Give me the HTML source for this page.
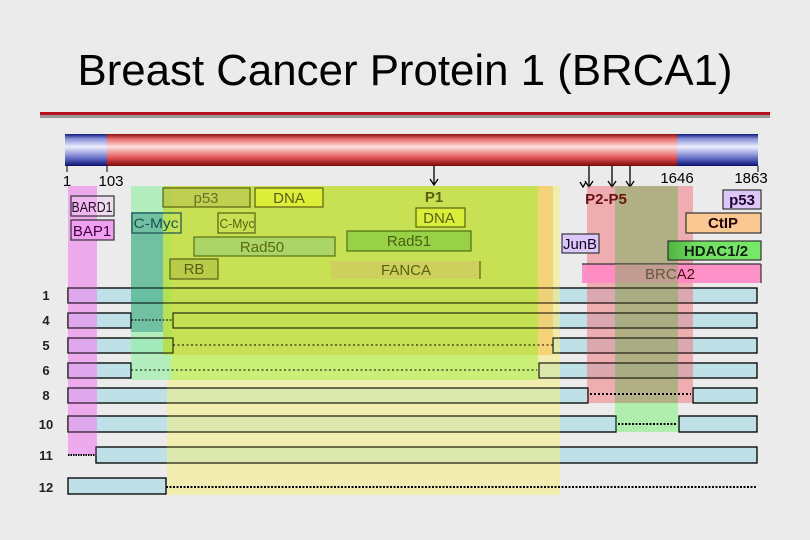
<!DOCTYPE html>
<html><head><meta charset="utf-8"><style>
html,body{margin:0;padding:0;background:#ebebeb;}
svg{display:block;}
text{font-family:"Liberation Sans",sans-serif;}
</style></head><body>
<svg width="810" height="540" viewBox="0 0 810 540" xmlns="http://www.w3.org/2000/svg">
<defs>
<linearGradient id="red" x1="0" y1="0" x2="0" y2="1">
<stop offset="0" stop-color="#8a1010"/><stop offset="0.15" stop-color="#e86a6a"/><stop offset="0.4" stop-color="#ffe0e0"/><stop offset="0.75" stop-color="#e05050"/><stop offset="1" stop-color="#7a0808"/></linearGradient>
<linearGradient id="blue" x1="0" y1="0" x2="0" y2="1">
<stop offset="0" stop-color="#101880"/><stop offset="0.15" stop-color="#8890d8"/><stop offset="0.4" stop-color="#eeeeff"/><stop offset="0.75" stop-color="#6870c8"/><stop offset="1" stop-color="#0a1070"/></linearGradient>
<linearGradient id="hdac" x1="0" y1="0" x2="1" y2="0">
<stop offset="0" stop-color="#50b040"/><stop offset="0.3" stop-color="#70e060"/><stop offset="1" stop-color="#78e868"/></linearGradient>
</defs>
<rect width="810" height="540" fill="#ebebeb"/>
<text x="405" y="85" font-size="44" text-anchor="middle" textLength="655" lengthAdjust="spacingAndGlyphs" fill="#000">Breast Cancer Protein 1 (BRCA1)</text>
<rect x="40" y="112" width="730" height="3" fill="#b8121e"/>
<rect x="40" y="115" width="730" height="3" fill="#999"/>

<rect x="65" y="134" width="42" height="32" fill="url(#blue)"/>
<rect x="107" y="134" width="570" height="32" fill="url(#red)"/>
<rect x="677" y="134" width="81" height="32" fill="url(#blue)"/>
<line x1="67" y1="166" x2="67" y2="172" stroke="#000"/>
<line x1="107" y1="166" x2="107" y2="172" stroke="#000"/>
<line x1="758" y1="166" x2="758" y2="172" stroke="#000"/>
<g font-size="15" fill="#000">
<text x="67" y="186" text-anchor="middle">1</text>
<text x="111" y="186" text-anchor="middle">103</text>
<text x="677" y="183" text-anchor="middle">1646</text>
<text x="751" y="183" text-anchor="middle">1863</text>
</g>
<g stroke="#000" stroke-width="1.3" fill="none">
<line x1="434" y1="166" x2="434" y2="184"/><path d="M430 179 L434 185 L438 179"/>
<line x1="589" y1="166" x2="589" y2="186"/><path d="M585 181 L589 187 L593 181"/>
<path d="M580 182 L583 187 L586 182"/>
<line x1="612" y1="166" x2="612" y2="186"/><path d="M608 181 L612 187 L616 181"/>
<line x1="630" y1="166" x2="630" y2="186"/><path d="M626 181 L630 187 L634 181"/>
</g>

<g fill="#bfe0e6" stroke="#000" stroke-width="1.2">
<rect x="68" y="288" width="689" height="15"/>
<rect x="68" y="313" width="63" height="15"/><rect x="173" y="313" width="584" height="15"/>
<rect x="68" y="338" width="105" height="15"/><rect x="553" y="338" width="204" height="15"/>
<rect x="68" y="363" width="63" height="15"/><rect x="539" y="363" width="218" height="15"/>
<rect x="68" y="388" width="520" height="15"/><rect x="693" y="388" width="64" height="15"/>
<rect x="68" y="416" width="548" height="16"/><rect x="679" y="416" width="78" height="16"/>
<rect x="96" y="447" width="661" height="16"/>
<rect x="68" y="478" width="98" height="16"/>
</g>

<rect x="167" y="186" width="393" height="309" fill="#f5ee80" fill-opacity="0.55"/>
<rect x="131" y="186" width="41" height="194" fill="#90f0a0" fill-opacity="0.6"/>
<rect x="163" y="186" width="375" height="169" fill="#b8dc30" fill-opacity="0.72"/>
<rect x="538" y="186" width="15" height="169" fill="#f5c860" fill-opacity="0.7"/>
<rect x="172" y="355" width="366" height="25" fill="#b8f060" fill-opacity="0.7"/>
<rect x="131" y="212" width="32" height="120" fill="#3a9a8a" fill-opacity="0.55"/>
<rect x="68" y="186" width="29" height="269" fill="#ee90ee" fill-opacity="0.7"/>
<rect x="587" y="186" width="106" height="217" fill="#f07a80" fill-opacity="0.55"/>
<rect x="615" y="186" width="63" height="217" fill="#80b060" fill-opacity="0.55"/>
<rect x="615" y="403" width="63" height="29" fill="#90f090" fill-opacity="0.65"/>

<g fill="none" stroke="#000" stroke-width="1.2" stroke-opacity="0.75">
<rect x="68" y="288" width="689" height="15"/>
<rect x="68" y="313" width="63" height="15"/><rect x="173" y="313" width="584" height="15"/>
<rect x="68" y="338" width="105" height="15"/><rect x="553" y="338" width="204" height="15"/>
<rect x="68" y="363" width="63" height="15"/><rect x="539" y="363" width="218" height="15"/>
<rect x="68" y="388" width="520" height="15"/><rect x="693" y="388" width="64" height="15"/>
<rect x="68" y="416" width="548" height="16"/><rect x="679" y="416" width="78" height="16"/>
<rect x="96" y="447" width="661" height="16"/>
<rect x="68" y="478" width="98" height="16"/>
</g>
<g stroke="#000" fill="none">
<line x1="131" y1="320" x2="173" y2="320" stroke-dasharray="2,1.5"/>
<line x1="173" y1="345" x2="553" y2="345" stroke-dasharray="2,2.5"/>
<line x1="131" y1="370" x2="537" y2="370" stroke-dasharray="2,2.5"/>
<line x1="590" y1="394" x2="691" y2="394" stroke-dasharray="2,2" stroke-width="2"/>
<line x1="618" y1="424" x2="677" y2="424" stroke-dasharray="2,1.5" stroke-width="2"/>
<line x1="68" y1="455" x2="95" y2="455" stroke-dasharray="1.5,1" stroke-width="2"/>
<line x1="166" y1="487" x2="757" y2="487" stroke-dasharray="2,1.5" stroke-width="2"/>
</g>
<g font-size="13" font-weight="bold" fill="#222" text-anchor="middle">
<text x="46" y="300">1</text><text x="46" y="325">4</text><text x="46" y="350">5</text>
<text x="46" y="375">6</text><text x="46" y="400">8</text><text x="46" y="429">10</text>
<text x="46" y="460">11</text><text x="46" y="492">12</text>
</g>

<g stroke-width="1.2" font-size="15" text-anchor="middle">
<rect x="71" y="196" width="43" height="20" fill="#f2c8f2" fill-opacity="0.4" stroke="#333"/>
<text x="92" y="212" fill="#201020" textLength="41" lengthAdjust="spacingAndGlyphs">BARD1</text>
<rect x="71" y="220" width="43" height="20" fill="#f0a0f0" stroke="#333"/>
<text x="92" y="236" fill="#400040">BAP1</text>
<rect x="163" y="188" width="87" height="19" fill="#b0b050" fill-opacity="0.35" stroke="#5a6010"/>
<text x="206" y="203" fill="#6a7020">p53</text>
<rect x="255" y="188" width="68" height="19" fill="#dcee38" stroke="#5a6010"/>
<text x="289" y="203" fill="#5a6010">DNA</text>
<rect x="132" y="213" width="49" height="20" fill="none" stroke="#1a5050"/>
<text x="156" y="228" fill="#1a5050" font-size="14" textLength="45" lengthAdjust="spacingAndGlyphs">C-Myc</text>
<rect x="218" y="213" width="37" height="20" fill="none" stroke="#5a6010"/>
<text x="237" y="228" fill="#5a6010" font-size="13" textLength="35" lengthAdjust="spacingAndGlyphs">C-Myc</text>
<rect x="194" y="237" width="141" height="19" fill="#a0d070" fill-opacity="0.7" stroke="#5a7010"/>
<text x="262" y="252" fill="#5a6a10">Rad50</text>
<rect x="170" y="259" width="48" height="20" fill="#a8b840" fill-opacity="0.5" stroke="#5a6010"/>
<text x="194" y="274" fill="#5a6010">RB</text>
<rect x="347" y="231" width="124" height="20" fill="#98d048" stroke="#4a7010"/>
<text x="409" y="246" fill="#4a6010">Rad51</text>
<rect x="331" y="261" width="149" height="18" fill="#d0cc60" fill-opacity="0.8"/>
<line x1="480" y1="261" x2="480" y2="279" stroke="#5a6010"/>
<text x="406" y="275" fill="#5a6010">FANCA</text>
<rect x="416" y="208" width="49" height="19" fill="#d8ee38" stroke="#5a6010"/>
<text x="439" y="223" fill="#5a6010">DNA</text>
<text x="434" y="202" fill="#5a6010" font-weight="bold">P1</text>
<text x="606" y="204" fill="#6a1010" font-weight="bold">P2-P5</text>
<rect x="723" y="190" width="38" height="19" fill="#dcc8f8" stroke="#333"/>
<text x="742" y="205" fill="#200030" font-weight="bold">p53</text>
<rect x="686" y="213" width="75" height="20" fill="#fac890" stroke="#333"/>
<text x="723" y="228" fill="#200" font-weight="bold">CtIP</text>
<rect x="562" y="234" width="37" height="19" fill="#dcc8f8" stroke="#333"/>
<text x="580" y="249" fill="#102" textLength="34" lengthAdjust="spacingAndGlyphs">JunB</text>
<rect x="668" y="241" width="93" height="19" fill="url(#hdac)" stroke="#333"/>
<text x="716" y="256" fill="#102010" font-weight="bold">HDAC1/2</text>
<rect x="582" y="264" width="179" height="19" fill="#ff88c4" fill-opacity="0.9"/>
<line x1="582" y1="264" x2="761" y2="264" stroke="#333"/>
<line x1="761" y1="264" x2="761" y2="283" stroke="#333"/>
<text x="670" y="279" fill="#4a1010">BRCA2</text>
</g>
<rect x="615" y="264" width="63" height="19" fill="#80b060" fill-opacity="0.45"/>
</svg>
</body></html>
